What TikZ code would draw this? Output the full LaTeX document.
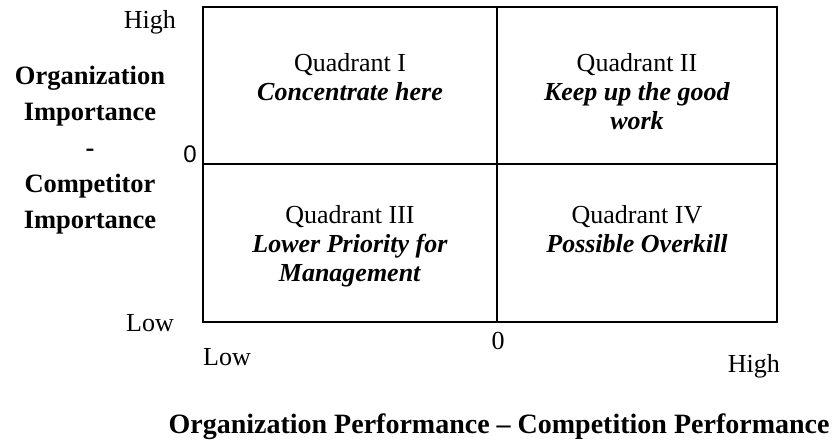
\documentclass[tikz,border=0pt]{standalone}
\usepackage{fontspec}
\setmainfont{Liberation Serif}
\setsansfont{Liberation Sans}
\usetikzlibrary{positioning}
\tikzset{
    grid-line/.style = {draw=black, line width=1.9pt},
    quad-text/.style = {align=center, inner sep=0pt, anchor=north, font=\fontsize{26}{29}\selectfont},
    axis-label/.style = {inner sep=0pt, font=\fontsize{26}{29}\selectfont},
    axis-title/.style = {align=center, inner sep=0pt, font=\bfseries\fontsize{26.5}{36}\selectfont},
}

\begin{document}
\begin{tikzpicture}[x=1pt, y=-1pt]
\useasboundingbox (0,0) rectangle (837,441);

% the 2x2 grid
\coordinate (tl) at (203,7);
\coordinate (br) at (777,322);
\coordinate (mid) at (497,164);
\draw[grid-line] (tl) rectangle (br);
\draw[grid-line] (mid |- tl) -- (mid |- br);
\draw[grid-line] (tl |- mid) -- (br |- mid);

% quadrant texts
\node[quad-text] (q1) at (350,53) {Quadrant I\\\textbf{\textit{Concentrate here}}};
\node[quad-text] (q2) at (637,53) {Quadrant II\\\textbf{\textit{Keep up the good}}\\\textbf{\textit{work}}};
\node[quad-text] (q3) at (350,205) {Quadrant III\\\textbf{\textit{Lower Priority for}}\\\textbf{\textit{Management}}};
\node[quad-text] (q4) at (637,205) {Quadrant IV\\\textbf{\textit{Possible Overkill}}};

% vertical axis
\node[axis-label, anchor=base east] (y-high) at (176,29) {High};
\node[axis-label, anchor=base east, font=\sffamily\fontsize{24}{29}\selectfont] (y-zero) at (197,162) {0};
\node[axis-label, anchor=base east] (y-low) at (174,331) {Low};
\node[axis-title, anchor=north] (y-title) at (90,66) {Organization\\Importance\\-\\Competitor\\Importance};

% horizontal axis
\node[axis-label, anchor=base west] (x-low) at (203,365) {Low};
\node[axis-label, anchor=base] (x-zero) at (498,349) {0};
\node[axis-label, anchor=base east] (x-high) at (780,372) {High};
\node[axis-title, anchor=base, font=\bfseries\fontsize{28}{36}\selectfont] (x-title) at (499,433) {Organization Performance -- Competition Performance};
\end{tikzpicture}
\end{document}
